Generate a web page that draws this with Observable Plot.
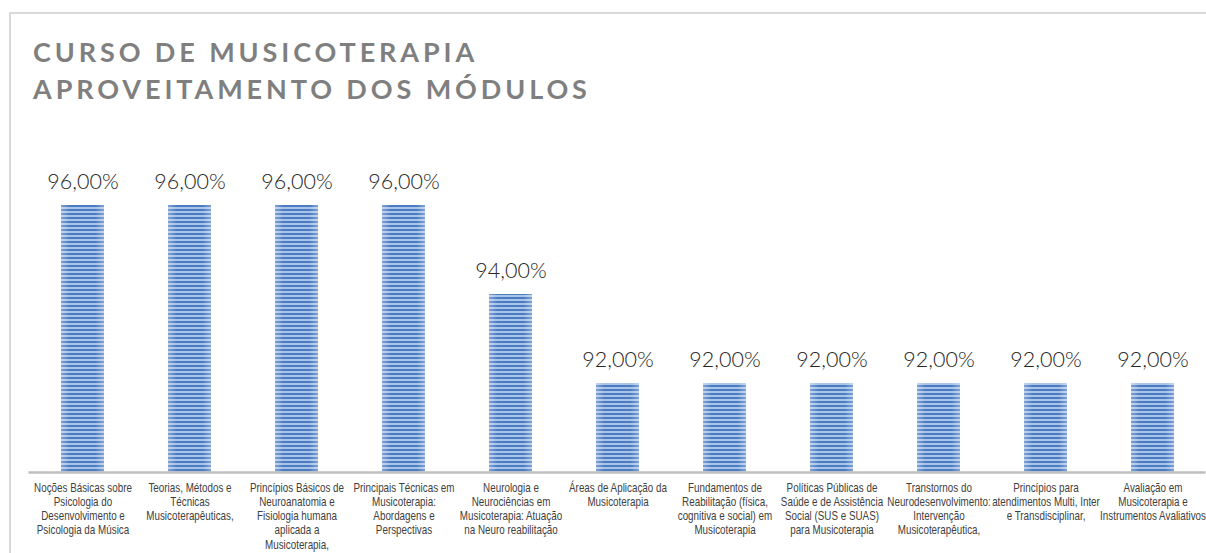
<!DOCTYPE html>
<html><head><meta charset="utf-8">
<script src="https://cdn.jsdelivr.net/npm/d3@7"></script>
<script src="https://cdn.jsdelivr.net/npm/@observablehq/plot@0.6"></script>
<style>
body{margin:0;background:#fff;width:1206px;height:553px;overflow:hidden;position:relative;font-family:"Open Sans",sans-serif}
#frame{position:absolute;left:9px;top:12px;width:1300px;height:700px;border:2px solid #d9d9d9;box-sizing:border-box}
#title{position:absolute;left:33px;top:33px;font-family:Lato,sans-serif;font-weight:700;font-size:27px;letter-spacing:3.9px;color:#7f7f7f;line-height:37px;white-space:nowrap}
#chart{position:absolute;left:0;top:140px}
</style>
</head><body>
<div id="frame"></div>
<div id="title">CURSO DE MUSICOTERAPIA<br>APROVEITAMENTO DOS MÓDULOS</div>
<div id="chart"></div>
<script>
const tickLabels = [
  "Noções Básicas sobre\nPsicologia do\nDesenvolvimento e\nPsicologia da Música",
  "Teorias, Métodos e\nTécnicas\nMusicoterapêuticas,",
  "Princípios Básicos de\nNeuroanatomia e\nFisiologia humana\naplicada a\nMusicoterapia,",
  "Principais Técnicas em\nMusicoterapia:\nAbordagens e\nPerspectivas",
  "Neurologia e\nNeurociências em\nMusicoterapia: Atuação\nna Neuro reabilitação",
  "Áreas de Aplicação da\nMusicoterapia",
  "Fundamentos de\nReabilitação (física,\ncognitiva e social) em\nMusicoterapia",
  "Políticas Públicas de\nSaúde e de Assistência\nSocial (SUS e SUAS)\npara Musicoterapia",
  "Transtornos do\nNeurodesenvolvimento:\nIntervenção\nMusicoterapêutica,",
  "Princípios para\natendimentos Multi, Inter\ne Transdisciplinar,",
  "Avaliação em\nMusicoterapia e\nInstrumentos Avaliativos"
];
const categories = tickLabels.map(s => s.replace(/\n/g, " "));
const values = [0.96, 0.96, 0.96, 0.96, 0.94, 0.92, 0.92, 0.92, 0.92, 0.92, 0.92];
const axisMin = 0.90;

const data = categories.map((c, i) => ({cat: c, value: values[i], label: tickLabels[i]}));
const labelOf = new Map(data.map(d => [d.cat, d.label]));
const fmt = v => (v * 100).toFixed(2).replace(".", ",") + "%";

const chart = Plot.plot({
  width: 1206,
  height: 413,
  marginTop: 65,
  marginBottom: 81,
  marginLeft: 28.5,
  marginRight: 0.5,
  style: {background: "transparent", overflow: "visible"},
  x: {domain: categories, paddingInner: 0.6, paddingOuter: 0.3, label: null},
  y: {domain: [axisMin, 0.96], axis: null},
  marks: [
    Plot.barY(data, {x: "cat", y1: axisMin, y2: "value", fill: "url(#stripes)"}),
    Plot.barY(data, {x: "cat", y1: axisMin, y2: "value", fill: "url(#edges)"}),
    Plot.ruleY([axisMin], {stroke: "#bfbfbf", strokeWidth: 2.5}),
    Plot.text(data, {x: "cat", y: "value", text: d => fmt(d.value), dy: -17, lineAnchor: "bottom",
      fontSize: 21.5, fontWeight: 300, fill: "#262626", fontFamily: "Lato"}),
    Plot.axisX({tickSize: 0, tickPadding: 9, tickFormat: c => labelOf.get(c), fontSize: 12,
      lineHeight: 1.19, fill: "#404040", fontFamily: "Liberation Sans, Arial, sans-serif", label: null})
  ]
});

const ns = "http://www.w3.org/2000/svg";
const defs = document.createElementNS(ns, "defs");
defs.innerHTML = `
<pattern id="stripes" patternUnits="userSpaceOnUse" width="8" height="4" y="1">
  <rect width="8" height="4" fill="#aac3e8"/>
  <rect width="8" height="2" fill="#4a7cc2"/>
</pattern>
<linearGradient id="edges" x1="0" x2="1" y1="0" y2="0">
  <stop offset="0" stop-color="#ffffff" stop-opacity="0.3"/>
  <stop offset="0.2" stop-color="#ffffff" stop-opacity="0"/>
  <stop offset="0.8" stop-color="#ffffff" stop-opacity="0"/>
  <stop offset="1" stop-color="#ffffff" stop-opacity="0.3"/>
</linearGradient>`;
chart.insertBefore(defs, chart.firstChild);
document.getElementById("chart").appendChild(chart);

// narrow the tick labels horizontally (Arial Narrow look)
const labelSet = new Set(tickLabels.map(s => s.replace(/\n/g, "")));
chart.querySelectorAll("text").forEach(t => {
  const txt = t.textContent;
  if (!labelSet.has(txt)) return;
  const tr = t.getAttribute("transform");
  if (tr && /translate/.test(tr)) {
    t.setAttribute("transform", tr + " scale(0.82,1)");
  } else {
    const x = +(t.getAttribute("x") || 0);
    t.setAttribute("transform", `translate(${x},0) scale(0.82,1) translate(${-x},0)`);
  }
});
</script>
</body></html>
